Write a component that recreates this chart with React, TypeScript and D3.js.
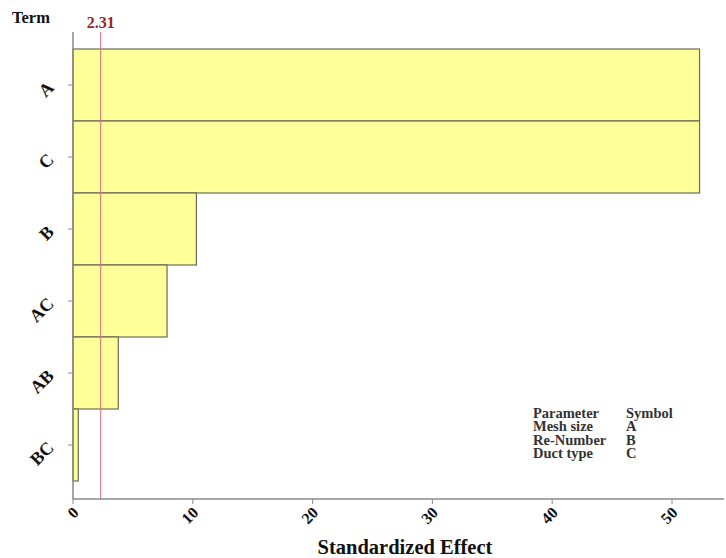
import React from "react";
import * as d3 from "d3";

const terms = ["A", "C", "B", "AC", "AB", "BC"];
const effects = [52.3, 52.3, 10.3, 7.85, 3.78, 0.44];
const xTicks = [0, 10, 20, 30, 40, 50];
const refValue = 2.31;
const legendParams = ["Parameter", "Mesh size", "Re-Number", "Duct type"];
const legendSymbols = ["Symbol", "A", "B", "C"];

const W = 726;
const H = 558;
const FONT = "'Liberation Serif', 'Times New Roman', serif";

export default function App() {
  const x0 = 73;
  const xScale = d3.scaleLinear().domain([0, 50]).range([x0, x0 + 599]);
  const yScale = d3.scaleBand<string>().domain(terms).range([49, 481]).padding(0);
  const axisY = 499;
  const axisColor = "#8a8a8a";

  return (
    <svg
      width={W}
      height={H}
      style={{ position: "absolute", left: 0, top: 0, background: "#fff" }}
      fontFamily={FONT}
    >
      {/* bars */}
      {terms.map((t, i) => (
        <rect
          key={t}
          x={xScale(0)}
          y={yScale(t)!}
          width={xScale(effects[i]) - xScale(0)}
          height={yScale.bandwidth()}
          fill="#ffff99"
          stroke="#6b6b55"
          strokeWidth={1.2}
        />
      ))}
      {/* reference line */}
      <line
        x1={xScale(refValue)}
        x2={xScale(refValue)}
        y1={32}
        y2={axisY}
        stroke="#cf6f73"
        strokeWidth={1}
      />
      <text
        x={xScale(refValue)}
        y={28}
        textAnchor="middle"
        fontWeight="bold"
        fontSize={16}
        fill="#9b2328"
      >
        {refValue.toFixed(2)}
      </text>
      {/* y axis */}
      <line x1={x0} x2={x0} y1={32} y2={axisY} stroke={axisColor} strokeWidth={1.5} />
      {terms.map((t) => {
        const cy = yScale(t)! + yScale.bandwidth() / 2;
        return (
          <g key={t}>
            <line x1={x0 - 5} x2={x0} y1={cy} y2={cy} stroke={axisColor} strokeWidth={1} />
            <text
              transform={`translate(${x0 - 21},${cy + 1}) rotate(-45)`}
              textAnchor="end"
              dominantBaseline="middle"
              fontWeight="bold"
              fontSize={18}
              fill="#111"
            >
              {t}
            </text>
          </g>
        );
      })}
      <text x={12} y={23} fontWeight="bold" fontSize={16.5} fill="#111">
        Term
      </text>
      {/* x axis */}
      <line x1={x0} x2={724} y1={axisY} y2={axisY} stroke={axisColor} strokeWidth={1.5} />
      {xTicks.map((v) => (
        <g key={v}>
          <line
            x1={xScale(v)}
            x2={xScale(v)}
            y1={axisY}
            y2={axisY + 5}
            stroke={axisColor}
            strokeWidth={1}
          />
          <text
            transform={`translate(${xScale(v) + 4},${axisY + 12}) rotate(-45)`}
            textAnchor="end"
            dominantBaseline="middle"
            fontWeight="bold"
            fontSize={16}
            fill="#111"
          >
            {v}
          </text>
        </g>
      ))}
      <text
        x={405}
        y={554}
        textAnchor="middle"
        fontWeight="bold"
        fontSize={20.5}
        fill="#111"
      >
        Standardized Effect
      </text>
      {/* legend */}
      {legendParams.map((p, i) => (
        <g key={p}>
          <text x={533} y={418 + i * 13.4} fontWeight="bold" fontSize={14.5} fill="#333">
            {p}
          </text>
          <text x={626} y={418 + i * 13.4} fontWeight="bold" fontSize={14.5} fill="#333">
            {legendSymbols[i]}
          </text>
        </g>
      ))}
    </svg>
  );
}
